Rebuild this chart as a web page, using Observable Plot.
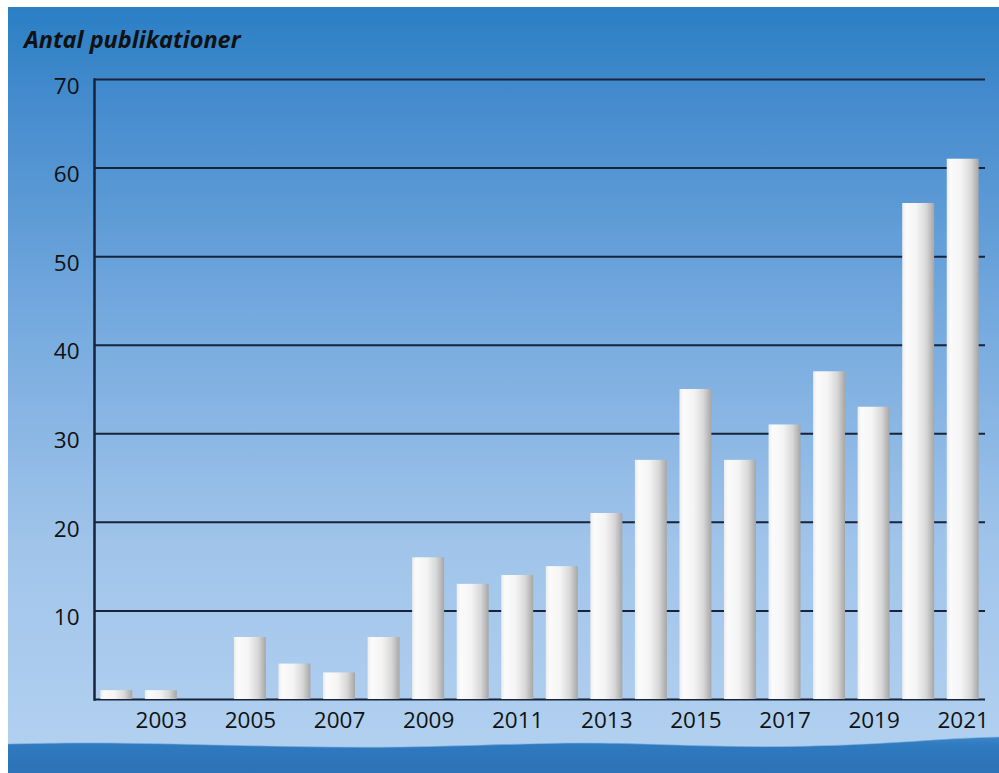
<!DOCTYPE html>
<html>
<head>
<meta charset="utf-8">
<script src="https://cdn.jsdelivr.net/npm/d3@7"></script>
<script src="https://cdn.jsdelivr.net/npm/@observablehq/plot@0.6"></script>
<style>
  html, body { margin: 0; padding: 0; background: white; }
  #wrap { position: relative; width: 999px; height: 773px; overflow: hidden; }
  #wrap svg { position: absolute; left: 0; top: 0; }
  #title { position: absolute; left: 24px; top: 27.5px; font-family: "Open Sans", sans-serif; font-weight: 700; font-style: italic; font-size: 23.5px; line-height: 1; color: #111; z-index: 2; white-space: nowrap; }
</style>
</head>
<body>
<div id="wrap">
  <div id="title">Antal publikationer</div>
</div>
<script>
const years = ["2002","2003","2004","2005","2006","2007","2008","2009","2010","2011","2012","2013","2014","2015","2016","2017","2018","2019","2020","2021"];
const counts = [1, 1, 0, 7, 4, 3, 7, 16, 13, 14, 15, 21, 27, 35, 27, 31, 37, 33, 56, 61];
const xTickLabels = ["2003","2005","2007","2009","2011","2013","2015","2017","2019","2021"];
const yTickLabels = [10, 20, 30, 40, 50, 60, 70];
const gridValues = [0, 10, 20, 30, 40, 50, 60, 70];

const data = years.map((y, i) => ({year: y, value: counts[i]}));
const ink = "#16233a";

const chart = Plot.plot({
  width: 999,
  height: 773,
  marginLeft: 94,
  marginRight: 14,
  marginTop: 79,
  marginBottom: 74,
  style: {fontFamily: "'Open Sans', sans-serif", fontSize: "22px", color: "#111", background: "transparent", overflow: "visible"},
  x: {type: "band", domain: years, padding: 0, round: false, axis: null, label: null},
  y: {domain: [0, 70], axis: null, label: null},
  marks: [
    Plot.gridY(gridValues, {stroke: ink, strokeOpacity: 1, strokeWidth: 2}),
    Plot.frame({anchor: "left", stroke: ink, strokeWidth: 2.5}),
    Plot.barY(data, {x: "year", y: "value", fill: "url(#barGrad)", insetLeft: 6.3, insetRight: 6.3}),
    Plot.axisY(yTickLabels, {tickSize: 0, tickPadding: 15, dy: 7, fontSize: 22.5, fill: "#111", label: null}),
    Plot.axisX(xTickLabels, {tickSize: 0, tickPadding: 13, fontSize: 22.5, fill: "#111", label: null})
  ]
});

const svg = d3.select(chart);
const defs = svg.insert("defs", ":first-child");

const bg = defs.append("linearGradient").attr("id", "bgGrad")
  .attr("gradientUnits", "userSpaceOnUse").attr("x1", 0).attr("y1", 7).attr("x2", 0).attr("y2", 773);
[[0, "#2a7fc5"], [0.12, "#448bcd"], [0.4, "#74a9de"], [0.7, "#a0c4ea"], [1, "#b4d2f1"]]
  .forEach(([o, c]) => bg.append("stop").attr("offset", o).attr("stop-color", c));

const bar = defs.append("linearGradient").attr("id", "barGrad")
  .attr("x1", 0).attr("y1", 0).attr("x2", 1).attr("y2", 0);
[[0, "#ececec"], [0.12, "#fbfbfb"], [0.45, "#f4f4f4"], [0.75, "#d8d8d8"], [1, "#a6a6a6"]]
  .forEach(([o, c]) => bar.append("stop").attr("offset", o).attr("stop-color", c));

const wave = defs.append("linearGradient").attr("id", "waveGrad")
  .attr("x1", 0).attr("y1", 0).attr("x2", 0).attr("y2", 1);
[[0, "#3b86c9"], [0.25, "#2f79be"], [1, "#2c72b7"]]
  .forEach(([o, c]) => wave.append("stop").attr("offset", o).attr("stop-color", c));

// decorative background and sea wave
const deco = svg.insert("g", "defs + *");
deco.append("rect").attr("x", 8).attr("y", 7).attr("width", 991).attr("height", 766).attr("fill", "url(#bgGrad)");
const wavePts = [[8,744],[100,742],[250,746],[400,748.5],[560,742],[650,744],[760,748],[880,744],[960,738],[999,737]];
const waveLine = d3.line().curve(d3.curveBasis)(wavePts);
deco.append("path").attr("d", waveLine + "L999,773L8,773Z").attr("fill", "url(#waveGrad)");
deco.append("path").attr("d", waveLine).attr("fill", "none").attr("stroke", "#7fb0e0").attr("stroke-width", 1).attr("stroke-opacity", 0.6);

document.getElementById("wrap").appendChild(chart);
</script>
</body>
</html>
